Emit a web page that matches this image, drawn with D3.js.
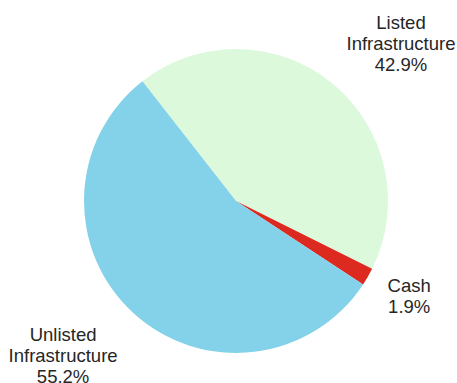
<!DOCTYPE html>
<html lang="en">
<head>
    <meta charset="UTF-8">
    <title>Infrastructure allocation</title>
    <script src="https://d3js.org/d3.v7.min.js"></script>
    <style>
        body { margin: 0; background: #fff; }
        text { font-family: "Liberation Sans", Arial, sans-serif; fill: #262626; }
    </style>
</head>
<body>
    <svg id="chart" width="457" height="383"></svg>

    <script>
        // slice data, clockwise from the top-left edge
        const labels = ["Listed\nInfrastructure", "Cash", "Unlisted\nInfrastructure"];
        const shares = [42.9, 1.9, 55.2];
        const colors = ["#dcf9dc", "#dd2a20", "#84d2ea"];

        const svg = d3.select("#chart");
        const cx = 236, cy = 201, r = 152;
        const fontSize = 18.5, lineH = 21;

        const g = svg.append("g").attr("transform", `translate(${cx},${cy})`);

        const start = -38 * Math.PI / 180;
        const pie = d3.pie().sort(null).value(d => d)
            .startAngle(start).endAngle(start + 2 * Math.PI);
        const arcs = pie(shares);
        const arc = d3.arc().innerRadius(0).outerRadius(r);

        g.selectAll("path.slice")
            .data(arcs)
            .enter().append("path")
            .attr("class", "slice")
            .attr("d", arc)
            .attr("fill", (d, i) => colors[i]);

        // labels at 1.15 r, left/right aligned by side, lines centred in the block
        const labelArc = d3.arc().innerRadius(r * 1.15).outerRadius(r * 1.15);

        arcs.forEach((d, i) => {
            const [lx, ly] = labelArc.centroid(d);
            const mid = (d.startAngle + d.endAngle) / 2;
            const lines = (labels[i] + "\n" + shares[i].toFixed(1) + "%").split("\n");
            const t = g.append("text")
                .attr("font-size", fontSize)
                .attr("text-anchor", "middle");
            lines.forEach(s => t.append("tspan").text(s));

            // measure widest line to shift the block to the correct side
            const spans = t.selectAll("tspan");
            let w = 0;
            spans.each(function () { w = Math.max(w, this.getComputedTextLength()); });
            const blockX = lx >= 0 ? lx + w / 2 : lx - w / 2;
            const h = lines.length * lineH;
            const shift = Math.cos(mid) * h * 0.505;
            const top = ly - h / 2 - shift + (lines.length - 2) * 5.7;
            spans.attr("x", blockX)
                .attr("y", (s, j) => top + j * lineH + fontSize * 0.76);
        });
    </script>
</body>
</html>
